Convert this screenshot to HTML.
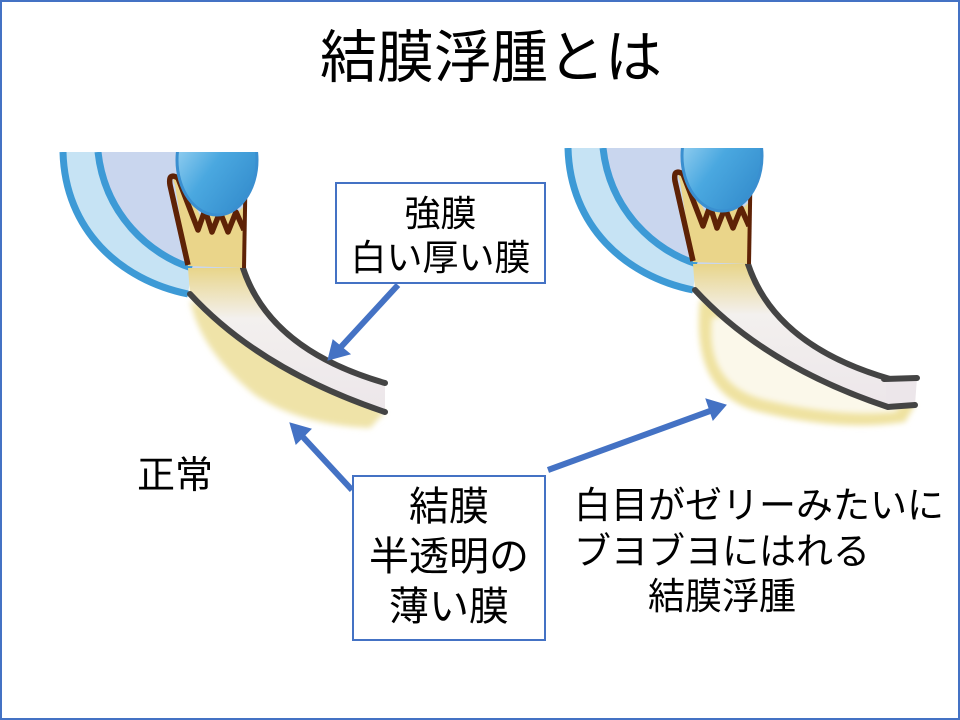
<!DOCTYPE html>
<html><head><meta charset="utf-8"><style>
body{margin:0;background:#fff}
#s{position:relative;width:960px;height:720px;overflow:hidden;font-family:"Liberation Sans","Noto Sans CJK JP",sans-serif;color:#000}
.t{position:absolute;white-space:nowrap;line-height:1}
.box{position:absolute;border:2.5px solid #4472c4;background:#fff;box-sizing:border-box;text-align:center}
</style></head><body><div id="s">
<svg width="960" height="720" style="position:absolute;left:0;top:0">
<defs>
<clipPath id="cp"><rect x="0" y="152" width="500" height="400"/></clipPath>
<linearGradient id="lens" x1="0" y1="0" x2="1" y2="1"><stop offset="0" stop-color="#bfe6fa"/><stop offset="0.5" stop-color="#4aa8e0"/><stop offset="1" stop-color="#2f86c8"/></linearGradient>
<linearGradient id="scl" x1="0" y1="0" x2="0" y2="1"><stop offset="0" stop-color="#e8d58a"/><stop offset="0.35" stop-color="#f3f0ee"/><stop offset="1" stop-color="#ece6ea"/></linearGradient>
<filter id="bl"><feGaussianBlur stdDeviation="3"/></filter>
<g id="eye">
<g clip-path="url(#cp)">
<path d="M63,152 C65,230 120,280 188,294 L192,268 C150,255 105,215 98,152 Z" fill="#c6e3f4"/>
<path d="M98,152 C105,215 150,255 192,268 L240,268 L250,152 Z" fill="#c9d6ee"/>
<path d="M63,152 C65,230 120,280 188,294" fill="none" stroke="#3d9ad6" stroke-width="7"/>
<path d="M98,152 C105,215 150,255 192,268" fill="none" stroke="#3d9ad6" stroke-width="7"/>
<path d="M188,268 L243,268 Q270,350 385,383 L385,412 Q260,370 190,294 Z" fill="url(#scl)"/>
<path d="M243,268 Q270,350 385,383" fill="none" stroke="#444" stroke-width="6" stroke-linecap="round"/>
<path d="M188,266 L175,185 Q170,175 180,180 L200,215 Q210,210 215,215 L225,210 L235,215 L245,205 L243,268 Z" fill="#ead58a"/>
<path d="M188,265 L170,185 Q168,172 178,178 L198,230 L205,210 L212,232 L220,212 L228,232 L236,212 L244,230" fill="none" stroke="#5e2206" stroke-width="5.5" stroke-linejoin="round"/>
<path d="M246,152 L244,268" stroke="#5e2206" stroke-width="4" fill="none"/>
<ellipse cx="217" cy="160" rx="40" ry="55" fill="url(#lens)" stroke="#3a8fd0" stroke-width="3"/>
</g>
</g>
</defs>
<rect x="1" y="1" width="958" height="718" fill="none" stroke="#4472c4" stroke-width="2"/>
<path d="M190,300 Q300,360 385,412 L370,428 Q300,425 255,395 Q200,350 190,300 Z" fill="#efe3a8" filter="url(#bl)"/>
<use href="#eye"/>
<path d="M190,294 Q260,370 385,412" fill="none" stroke="#444" stroke-width="6" stroke-linecap="round"/>
<path d="M700,300 Q690,395 760,412 Q840,432 905,422 L915,405 Q800,370 730,300 Z" fill="#efe2a0" filter="url(#bl)"/>
<path d="M712,318 Q705,385 765,400 Q840,418 895,412 L905,402 Q800,370 735,315 Z" fill="#fbf8ea" filter="url(#bl)"/>
<use href="#eye" transform="translate(505,-4)"/>
<path d="M886,379 L917,378 L915,405 L886,408 Z" fill="#ece6ea"/>
<path d="M884,379 L917,378" stroke="#444" stroke-width="6" stroke-linecap="round"/>
<path d="M695,290 Q765,366 888,407 L915,405" fill="none" stroke="#444" stroke-width="6" stroke-linecap="round"/>
<g stroke="#4472c4" stroke-width="6" fill="#4472c4">
<line x1="398" y1="285" x2="340" y2="348"/>
<polygon points="328,360 333,340 350,354" stroke-width="1"/>
<line x1="352" y1="490" x2="302" y2="436"/>
<polygon points="290,423 311,429 296,444" stroke-width="1"/>
<line x1="548" y1="470" x2="710" y2="411"/>
<polygon points="726,405 706,399 713,420" stroke-width="1"/>
</g>
</svg>
<div class="t" style="left:320px;top:30px;font-size:57px">結膜浮腫とは</div>
<div class="t" style="left:137px;top:457px;font-size:38px">正常</div>
<div class="box" style="left:335px;top:182px;width:211px;height:102px;font-size:36px;line-height:44px;padding-top:8px">強膜<br>白い厚い膜</div>
<div class="box" style="left:352px;top:475px;width:194px;height:166px;font-size:40px;line-height:50px;padding-top:5px">結膜<br>半透明の<br>薄い膜</div>
<div class="t" style="left:574px;top:487px;font-size:37px">白目がゼリーみたいに</div>
<div class="t" style="left:574px;top:533px;font-size:37px">ブヨブヨにはれる</div>
<div class="t" style="left:648px;top:578px;font-size:37px">結膜浮腫</div>
</div></body></html>
